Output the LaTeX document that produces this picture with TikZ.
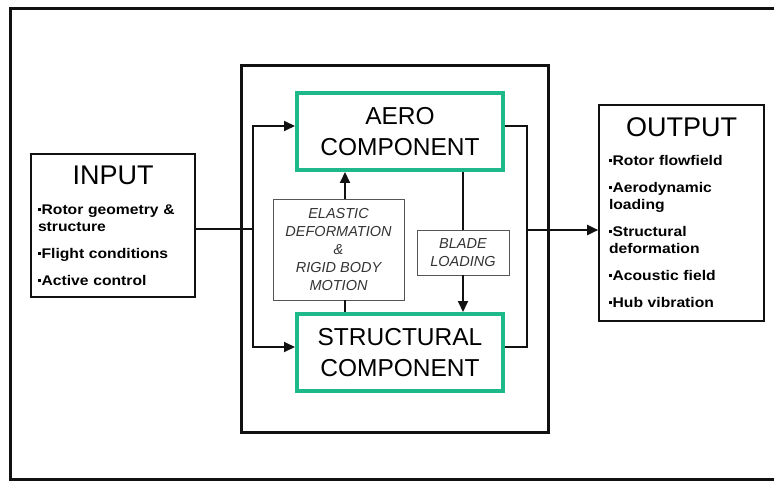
\documentclass[tikz,border=0pt]{standalone}
\usepackage{fontspec}
\setmainfont{Liberation Sans}
\usetikzlibrary{arrows.meta,positioning}
\definecolor{cink}{HTML}{111111}
\definecolor{cgreen}{HTML}{1DB98A}
\definecolor{cgrey}{HTML}{555555}
\definecolor{cnote}{HTML}{333333}
\newcommand\boxtitle[1]{\leavevmode\hbox to\hsize{\hss\normalfont\fontsize{27}{27}\selectfont #1\hss}}
\newcommand\sqdot{\rule[3.5pt]{3pt}{3pt}\kern0.6pt}

\begin{document}
\begin{tikzpicture}[
  x=1pt, y=-1pt,
  frame/.style={draw=cink, line width=3pt},
  io/.style={
    draw=cink,
    line width=1.6pt,
    align=left,
    inner xsep=7pt,
    inner ysep=0pt,
    font=\fontsize{14}{17}\selectfont\bfseries\addfontfeatures{FakeStretch=1.12}
  },
  component/.style={
    draw=cgreen,
    line width=4pt,
    minimum width=206pt,
    minimum height=77pt,
    align=center,
    inner sep=0pt,
    font=\fontsize{24.5}{31}\selectfont
  },
  note/.style={
    draw=cgrey,
    line width=0.8pt,
    align=center,
    inner sep=0pt,
    text=cnote,
    font=\fontsize{14.5}{18}\selectfont\itshape
  },
  flow/.style={-{Triangle[length=11pt,width=10pt]}, draw=cink, line width=2pt},
  link/.style={draw=cink, line width=2pt}
]
\useasboundingbox (0,0) rectangle (774,481);

% outer frame, open on the right
\draw[frame] (774,9) -- (10,9) -- (10,479) -- (774,479);

\node[frame, minimum width=307pt, minimum height=366pt] (coupling) at (394.5,249) {};

\node[io, text width=150pt, minimum width=164pt, minimum height=143pt] (input) at (113,225.5) {%
  \boxtitle{INPUT}\\[13pt]
  \sqdot Rotor geometry \&\\
  structure\\[10pt]
  \sqdot Flight conditions\\[10pt]
  \sqdot Active control};

\node[io, text width=145pt, inner xsep=10pt, minimum width=165pt, minimum height=216pt] (output) at (681.5,213) {%
  \boxtitle{OUTPUT}\\[12pt]
  \sqdot Rotor flowfield\\[10pt]
  \sqdot Aerodynamic\\
  loading\\[10pt]
  \sqdot Structural\\
  deformation\\[10pt]
  \sqdot Acoustic field\\[10pt]
  \sqdot Hub vibration};

\node[component] (aero) at (400,131.5) {AERO\\COMPONENT};
\node[component] (structural) at (400,352.5) {STRUCTURAL\\COMPONENT};

\node[note, minimum width=131pt, minimum height=101pt] (elastic) at (338.5,249.5)
  {ELASTIC\\DEFORMATION\\\&\\RIGID BODY\\MOTION};
\node[note, minimum width=92pt, minimum height=45pt] (blade) at (463,252.5)
  {BLADE\\LOADING};

% input bus and output bus
\coordinate (split) at (253,229);
\coordinate (merge) at (527,230);
\draw[link] (input.east |- split) -- (split);
\draw[flow] (split) |- ([yshift=5.5pt]aero.west);
\draw[flow] (split) |- ([yshift=5.5pt]structural.west);
\draw[link] ([yshift=5.5pt]aero.east) -| (merge);
\draw[link] ([yshift=5.5pt]structural.east) -| (merge);
\draw[flow] (merge) -- (output.west |- merge);

% coupling between the two components
\draw[flow] ([xshift=6.5pt]elastic.north) -- ([xshift=6.5pt]elastic.north |- aero.south);
\draw[link] ([xshift=6.5pt]elastic.south) -- ([xshift=6.5pt]elastic.south |- structural.north);
\draw[link] (blade.north |- aero.south) -- (blade.north);
\draw[flow] (blade.south) -- (blade.south |- structural.north);

\end{tikzpicture}
\end{document}
